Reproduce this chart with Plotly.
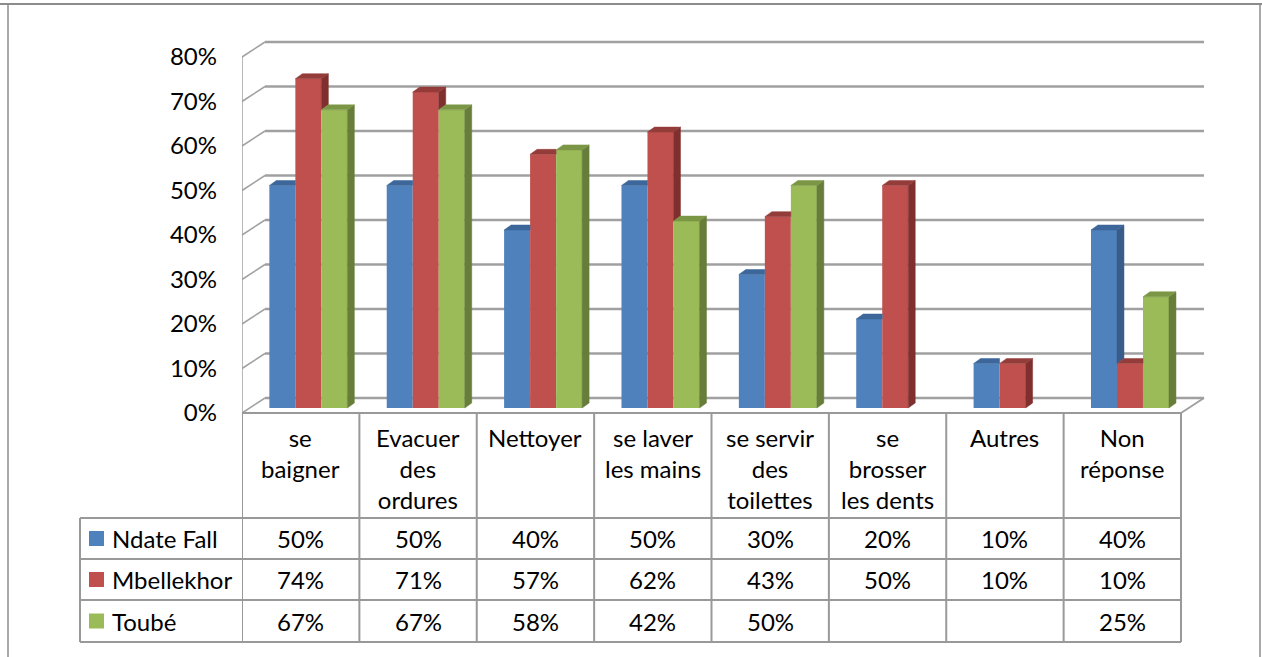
import plotly.graph_objects as go

# ---------------- data ----------------
categories = ["se<br>baigner", "Evacuer<br>des<br>ordures", "Nettoyer", "se laver<br>les mains",
              "se servir<br>des<br>toilettes", "se<br>brosser<br>les dents", "Autres", "Non<br>réponse"]
series_names = ["Ndate Fall", "Mbellekhor", "Toubé"]
ndate_fall = [50, 50, 40, 50, 30, 20, 10, 40]
mbellekhor = [74, 71, 57, 62, 43, 50, 10, 10]
toube = [67, 67, 58, 42, 50, None, None, 25]
tick_values = [0, 10, 20, 30, 40, 50, 60, 70, 80]
tick_labels = ["0%", "10%", "20%", "30%", "40%", "50%", "60%", "70%", "80%"]

series_values = [ndate_fall, mbellekhor, toube]
front_colors = ["#4F81BD", "#C0504D", "#9BBB59"]
side_colors = ["#385D8A", "#7F2F2D", "#677E3A"]
top_colors = ["#3D679A", "#943C3A", "#7B9645"]

W, H = 1262, 657
X0_PX, X1_PX = 242, 1181          # front floor edge
Y0_PX = 413                        # front 0 %
PX_PER_PCT = 4.45
N = len(categories)
PX_PER_CAT = (X1_PX - X0_PX) / N
X_EXTRA = 0.5                      # room on the right for the 3D depth

# 3D geometry (in axis units)
DEPTH_DX = 23 / PX_PER_CAT
DEPTH_DY = 15 / PX_PER_PCT
BAR_W = 26 / PX_PER_CAT
BAR_DX = 7 / PX_PER_CAT
BAR_DY = 5 / PX_PER_PCT
BAR_X0 = DEPTH_DX / 3
BAR_Y0 = DEPTH_DY / 3

FONT = "Lato"
FS = 24


def px(x):
    return x / W


def py(y):
    return 1 - y / H


def bar_left(i, k):
    return i + BAR_X0 - 1.5 * BAR_W + k * BAR_W


fig = go.Figure()

for k, vals in enumerate(series_values):
    xs = [bar_left(i, k) for i in range(N)]
    fig.add_trace(go.Bar(
        x=xs, y=vals, base=BAR_Y0, width=BAR_W, offset=0, name=series_names[k],
        marker=dict(color=front_colors[k], line=dict(width=0)),
        showlegend=False, hoverinfo="skip"))

faces = []
for i in range(N):
    for k, vals in enumerate(series_values):
        v = vals[i]
        if v is None:
            continue
        xl = bar_left(i, k)
        xr = xl + BAR_W
        top = BAR_Y0 + v
        nxt = series_values[k + 1][i] if k + 1 < len(series_values) else None
        nxt_top = BAR_Y0 + nxt if nxt is not None else None
        if nxt_top is None:
            faces.append(([xr, xr + BAR_DX, xr + BAR_DX, xr, xr],
                          [top, top + BAR_DY, BAR_Y0 + BAR_DY, BAR_Y0, top], side_colors[k]))
        elif nxt_top < top:
            faces.append(([xr, xr + BAR_DX, xr + BAR_DX, xr, xr],
                          [top, top + BAR_DY, nxt_top + BAR_DY, nxt_top, top], side_colors[k]))
        if nxt_top is not None and nxt_top >= top:
            faces.append(([xl, xl + BAR_DX, xr, xr, xl],
                          [top, top + BAR_DY, top + BAR_DY, top, top], top_colors[k]))
        else:
            faces.append(([xl, xl + BAR_DX, xr + BAR_DX, xr, xl],
                          [top, top + BAR_DY, top + BAR_DY, top, top], top_colors[k]))

for sx, sy, col in faces:
    fig.add_trace(go.Scatter(x=sx, y=sy, mode="lines", fill="toself", fillcolor=col,
                             line=dict(width=0.5, color=col), showlegend=False, hoverinfo="skip"))

shapes = []
grid_col = "#A0A0A0"
for v in tick_values:
    shapes.append(dict(type="line", xref="x", yref="y", layer="below",
                       x0=-0.5 + DEPTH_DX, x1=N - 0.5 + DEPTH_DX, y0=v + DEPTH_DY, y1=v + DEPTH_DY,
                       line=dict(color=grid_col, width=2.5)))
    shapes.append(dict(type="line", xref="x", yref="y", layer="below",
                       x0=-0.5, x1=-0.5 + DEPTH_DX, y0=v, y1=v + DEPTH_DY,
                       line=dict(color=grid_col, width=1.5)))
shapes.append(dict(type="line", xref="x", yref="y", layer="below",
                   x0=-0.5, x1=-0.5, y0=0, y1=tick_values[-1],
                   line=dict(color=grid_col, width=1.5)))
shapes.append(dict(type="line", xref="x", yref="y", layer="below",
                   x0=N - 0.5, x1=N - 0.5 + DEPTH_DX, y0=0, y1=DEPTH_DY,
                   line=dict(color=grid_col, width=2)))

tab_col = "#999999"
row_y = [518, 559, 600, 642]
LEG_X = 80
shapes.append(dict(type="line", xref="x", yref="paper", x0=-0.5, x1=N - 0.5,
                   y0=py(Y0_PX), y1=py(Y0_PX), line=dict(color=tab_col, width=2)))
for ry in row_y:
    shapes.append(dict(type="line", xref="paper", yref="paper", x0=px(LEG_X), x1=px(X1_PX),
                       y0=py(ry), y1=py(ry), line=dict(color=tab_col, width=2)))
for c in range(N + 1):
    shapes.append(dict(type="line", xref="x", yref="paper", x0=c - 0.5, x1=c - 0.5,
                       y0=py(Y0_PX), y1=py(row_y[-1]), line=dict(color=tab_col, width=2)))
shapes.append(dict(type="line", xref="paper", yref="paper", x0=px(LEG_X), x1=px(LEG_X),
                   y0=py(row_y[0]), y1=py(row_y[-1]), line=dict(color=tab_col, width=2)))

frame_col = "#8C8C8C"
shapes.append(dict(type="line", xref="paper", yref="paper", x0=0, x1=1, y0=py(4), y1=py(4),
                   line=dict(color=frame_col, width=2)))
shapes.append(dict(type="line", xref="paper", yref="paper", x0=px(8), x1=px(8), y0=py(4), y1=0,
                   line=dict(color=frame_col, width=1.5)))
shapes.append(dict(type="line", xref="paper", yref="paper", x0=px(1260), x1=px(1260), y0=py(4), y1=0,
                   line=dict(color=frame_col, width=1.5)))

annotations = []
for i, lab in enumerate(categories):
    annotations.append(dict(x=i, xref="x", y=py(421), yref="paper", text=lab, showarrow=False,
                            xanchor="center", yanchor="top", align="center",
                            font=dict(family=FONT, size=FS, color="#000")))
for r, vals in enumerate(series_values):
    cy = (row_y[r] + row_y[r + 1]) / 2
    for i, v in enumerate(vals):
        if v is None:
            continue
        annotations.append(dict(x=i, xref="x", y=py(cy), yref="paper", text=f"{v}%",
                                showarrow=False, xanchor="center", yanchor="middle",
                                font=dict(family=FONT, size=FS, color="#000")))
    shapes.append(dict(type="rect", xref="paper", yref="paper", x0=px(89), x1=px(104),
                       y0=py(cy - 7.5), y1=py(cy + 7.5), fillcolor=front_colors[r],
                       line=dict(width=0)))
    annotations.append(dict(x=px(110), xref="paper", y=py(cy), yref="paper", text=series_names[r],
                            showarrow=False, xanchor="left", yanchor="middle",
                            font=dict(family=FONT, size=FS, color="#000")))

fig.update_layout(
    width=W, height=H, margin=dict(l=0, r=0, t=0, b=0),
    paper_bgcolor="white", plot_bgcolor="rgba(0,0,0,0)",
    barmode="overlay", showlegend=False,
    xaxis=dict(range=[-0.5, N - 0.5 + X_EXTRA],
               domain=[px(X0_PX), px(X1_PX + X_EXTRA * PX_PER_CAT)], visible=False, fixedrange=True),
    yaxis=dict(range=[(Y0_PX - H) / PX_PER_PCT, Y0_PX / PX_PER_PCT], domain=[0, 1],
               showgrid=False, zeroline=False, showline=False, ticks="",
               tickvals=tick_values, ticktext=tick_labels, ticklabelstandoff=24,
               tickfont=dict(family=FONT, size=FS, color="#000"), fixedrange=True),
    shapes=shapes, annotations=annotations,
)

fig.write_html("out.html", config={"displayModeBar": False},
               post_script="document.body.style.margin='0';")
